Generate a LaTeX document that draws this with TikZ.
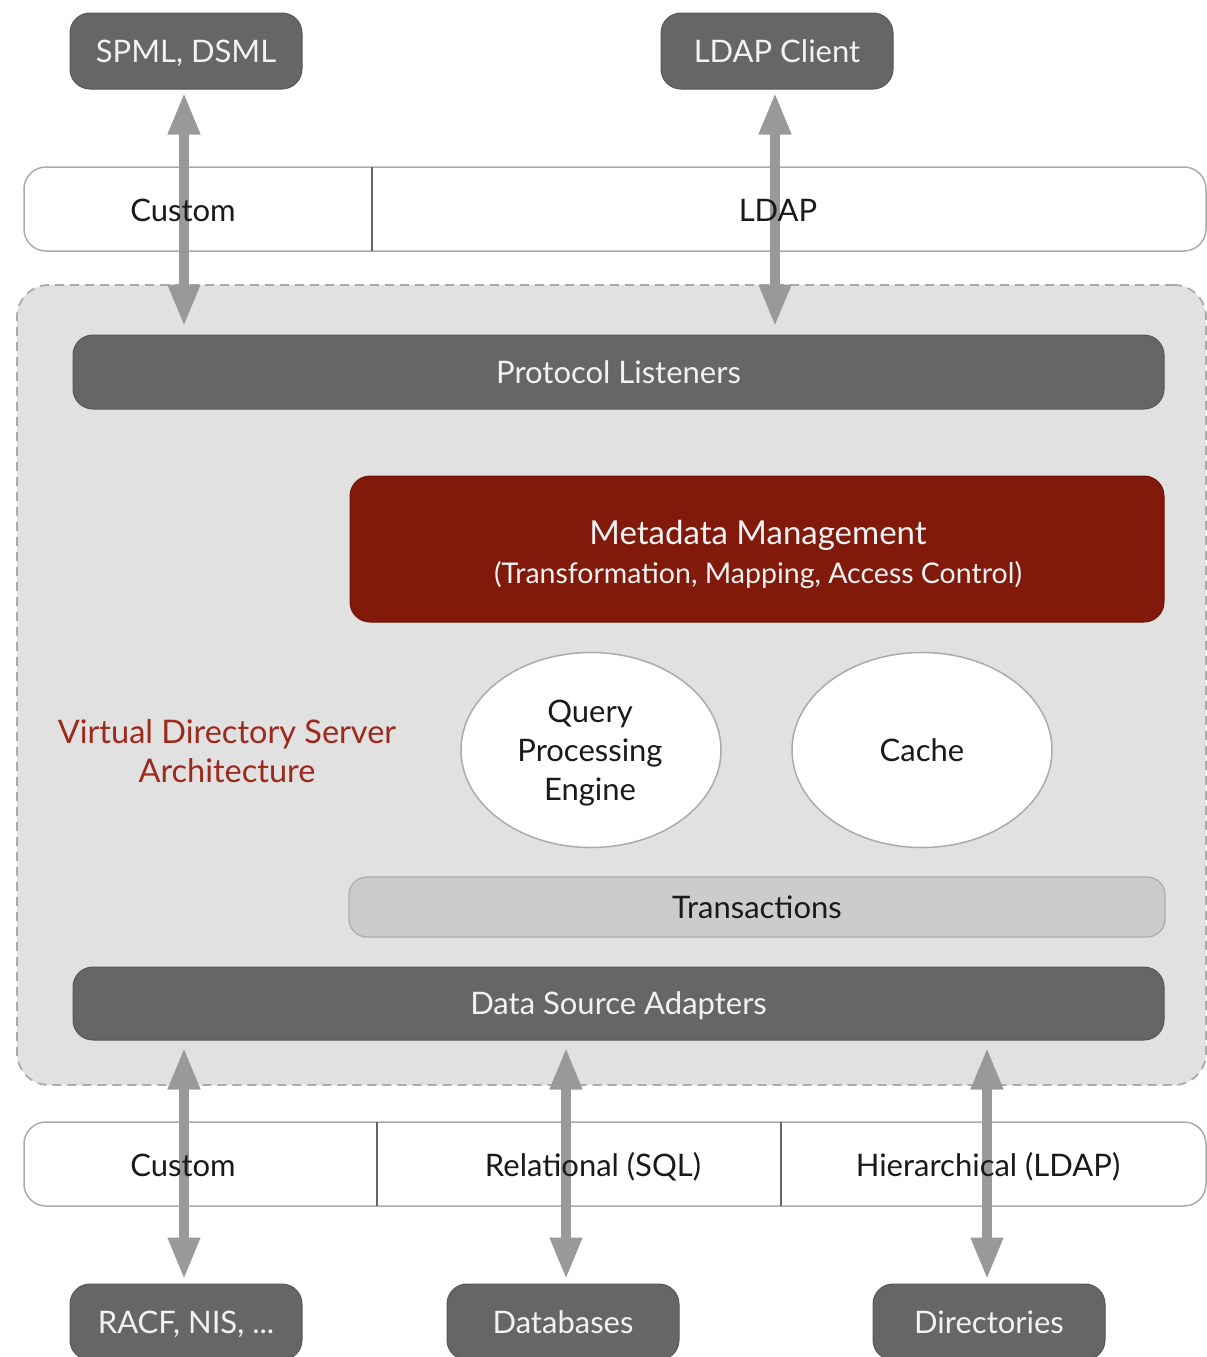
\documentclass[tikz,border=0pt]{standalone}
\usepackage{fontspec}
\setmainfont{Lato}
\usetikzlibrary{arrows.meta,shapes.geometric}
\definecolor{boxgray}{HTML}{666666}
\definecolor{boxtext}{HTML}{F2F2F2}
\definecolor{metared}{HTML}{811A0B}
\definecolor{titlered}{HTML}{9C2A1C}
\definecolor{panelgray}{HTML}{E1E1E1}
\definecolor{dashgray}{HTML}{ABABAB}
\definecolor{arrowgray}{HTML}{999999}
\definecolor{transgray}{HTML}{CCCCCC}
\definecolor{inktext}{HTML}{1A1A1A}
\tikzset{every node/.style={inner sep=0pt,text=inktext,font=\fontsize{31}{39}\selectfont},
  oneline/.style={text height=24pt,text depth=2pt},
  darkbox/.style={oneline,fill=boxgray,draw=boxgray!85!black,line width=1pt,rounded corners=20pt,text=boxtext},
  redbox/.style={fill=metared,draw=metared!85!black,line width=1pt,rounded corners=20pt},
  lightbox/.style={oneline,fill=transgray,draw=dashgray,line width=1.2pt,rounded corners=18pt},
  stripbox/.style={fill=white,draw=dashgray,line width=1.5pt,rounded corners=22pt},
  panel/.style={fill=panelgray,draw=dashgray,line width=1.8pt,dash pattern=on 9pt off 6pt,rounded corners=32pt},
  blob/.style={ellipse,fill=white,draw=dashgray,line width=1.5pt,align=center},
  divider/.style={draw=black!60,line width=1.5pt},
  twoway/.style={draw=arrowgray,line width=10pt,{Triangle[width=30pt,length=42pt]}-{Triangle[width=30pt,length=42pt]}}}

\begin{document}
\begin{tikzpicture}[x=1pt,y=-1pt]
\useasboundingbox (0,0) rectangle (1207,1357);
      \node[stripbox,minimum width=1182,minimum height=84] (topstrip) at (615,209) {};
      \node[stripbox,minimum width=1182,minimum height=84] (botstrip) at (615,1164) {};
      \coordinate (t1) at (372,167);
      \coordinate (b1) at (377,1122);
      \coordinate (b2) at (781,1122);
\foreach \c in {t1,b1,b2}
  \draw[divider] (\c) -- ++(0,84);
      \node[panel,minimum width=1189,minimum height=800] (vds) at (611.5,685) {};
      \node[darkbox,minimum width=1091,minimum height=74] (pl) at (618.5,372) {Protocol Listeners};
      \node[redbox,minimum width=814,minimum height=146] (meta) at (757,549) {};
      \node[align=center,text=boxtext,font=\fontsize{33}{39}\selectfont] (metatext) at (758,554)
        {Metadata Management\\{\fontsize{28.5}{39}\selectfont (Transformation, Mapping, Access Control)}};
      \node[align=center,text=titlered,font=\fontsize{32.5}{39}\selectfont] (vdsa) at (227,751) {Virtual Directory Server\\Architecture};
      \node[blob,minimum width=260,minimum height=195] (qpe) at (591,750) {};
      \node[align=center] (qpetext) at (590,753) {Query\\Processing\\Engine};
      \node[blob,minimum width=260,minimum height=195,oneline] (cache) at (922,750) {Cache};
      \node[lightbox,minimum width=816,minimum height=60] (trans) at (757,907) {Transactions};
      \node[darkbox,minimum width=1091,minimum height=73] (dsa) at (618.5,1003.5) {Data Source Adapters};
      \node[darkbox,minimum width=232,minimum height=76] (spml) at (186,51) {SPML, DSML};
      \node[darkbox,minimum width=232,minimum height=76] (ldapc) at (777,51) {LDAP Client};
      \node[darkbox,minimum width=232,minimum height=76] (racf) at (186,1322) {RACF, NIS, ...};
      \node[darkbox,minimum width=232,minimum height=76] (db) at (563,1322) {Databases};
      \node[darkbox,minimum width=232,minimum height=76] (dirs) at (989,1322) {Directories};

\foreach \a/\dx in {spml/-2,ldapc/-2}
  \draw[twoway,shorten <=3pt,shorten >=8pt] ([xshift=\dx]\a.south) -- ([xshift=\dx]\a.south |- pl.north);
\foreach \a/\dx in {racf/-2,db/3,dirs/-2}
  \draw[twoway,shorten <=4pt,shorten >=7pt] ([xshift=\dx]\a.north) -- ([xshift=\dx]\a.north |- dsa.south);

      \node[oneline] (custtop) at (183,210) {Custom};
      \node[oneline] (ldapl) at (778,210) {LDAP};
      \node[oneline] (custbot) at (183,1165) {Custom};
      \node[oneline] (rel) at (593,1165) {Relational (SQL)};
      \node[oneline] (hier) at (988,1165) {Hierarchical (LDAP)};
    \end{tikzpicture}
\end{document}
